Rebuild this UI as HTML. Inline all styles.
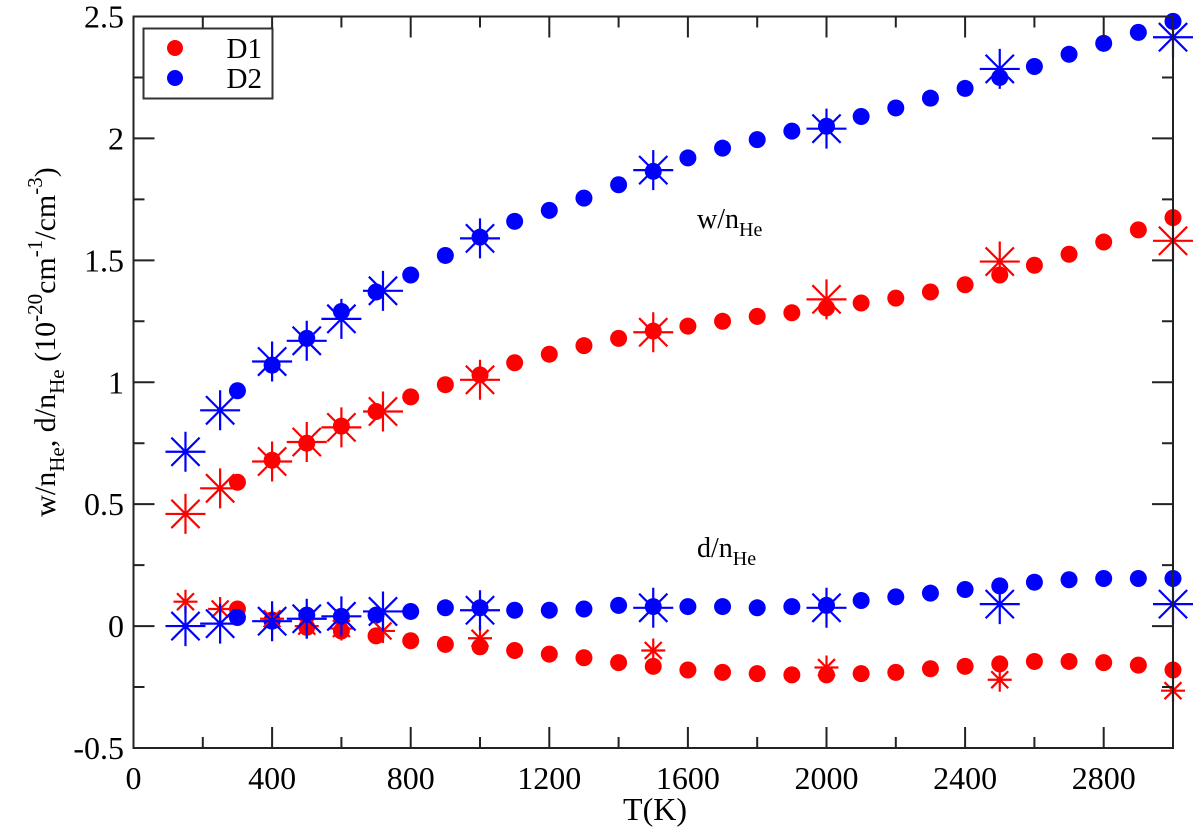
<!DOCTYPE html>
<html><head><meta charset="utf-8"><style>
html,body{margin:0;padding:0;background:#fff}
svg{display:block}
svg text{font-family:"Liberation Serif","Times New Roman","DejaVu Serif",serif}
</style></head><body>
<svg id="chart" width="1200" height="829" viewBox="0 0 1200 829" xmlns="http://www.w3.org/2000/svg" font-family="'Liberation Serif','Times New Roman','DejaVu Serif',serif">
<rect x="0" y="0" width="1200" height="829" fill="#fff"/>
<g id="marks"></g>
<g id="axes"></g>
<text x="655" y="820" font-size="32" text-anchor="middle">T(K)</text>
<text transform="translate(55,342) rotate(-90)" font-size="30" text-anchor="middle">w/n<tspan font-size="21" dy="9">He</tspan><tspan dy="-9">, d/n</tspan><tspan font-size="21" dy="9">He</tspan><tspan dy="-9"> (10</tspan><tspan font-size="21" dy="-13">-20</tspan><tspan dy="13">cm</tspan><tspan font-size="21" dy="-13">-1</tspan><tspan dy="13">/cm</tspan><tspan font-size="21" dy="-13">-3</tspan><tspan dy="13">)</tspan></text>
<text x="697" y="228" font-size="28">w/n<tspan font-size="20" dy="8">He</tspan></text>
<text x="697" y="557" font-size="28">d/n<tspan font-size="20" dy="8">He</tspan></text>
<g>
<rect x="143.5" y="28.5" width="129" height="70" fill="#fff" stroke="#333" stroke-width="2"/>
<circle cx="175" cy="48" r="8" fill="#ff0000"/>
<text x="262" y="58" font-size="29" text-anchor="end">D1</text>
<circle cx="175" cy="78" r="8" fill="#0000ff"/>
<text x="262" y="88" font-size="29" text-anchor="end">D2</text>
</g>
</svg>
<script>
const circleT = [300,400,500,600,700,800,900,1000,1100,1200,1300,1400,1500,1600,1700,1800,1900,2000,2100,2200,2300,2400,2500,2600,2700,2800,2900,3000];
const wD1 = [0.59,0.68,0.75,0.82,0.88,0.94,0.99,1.03,1.08,1.115,1.15,1.18,1.21,1.23,1.25,1.27,1.285,1.305,1.325,1.345,1.37,1.40,1.44,1.48,1.525,1.575,1.625,1.675];
const wD2 = [0.965,1.07,1.18,1.29,1.37,1.44,1.52,1.595,1.66,1.705,1.755,1.81,1.865,1.92,1.96,1.995,2.03,2.05,2.09,2.125,2.165,2.205,2.25,2.295,2.345,2.39,2.435,2.48];
const dD1 = [0.07,0.025,-0.005,-0.02,-0.04,-0.06,-0.075,-0.085,-0.10,-0.115,-0.13,-0.15,-0.165,-0.18,-0.19,-0.195,-0.2,-0.2,-0.195,-0.19,-0.175,-0.165,-0.155,-0.145,-0.145,-0.15,-0.16,-0.18];
const dD2 = [0.035,0.02,0.045,0.04,0.045,0.06,0.075,0.075,0.065,0.065,0.07,0.085,0.08,0.08,0.08,0.075,0.08,0.085,0.105,0.12,0.135,0.15,0.165,0.18,0.19,0.195,0.195,0.195];
const starT = [150,250,400,500,600,720,1000,1500,2000,2500,3000];
const wStarD1 = [0.46,0.565,0.675,0.755,0.815,0.88,1.01,1.205,1.34,1.495,1.58];
const wStarD2 = [0.715,0.885,1.085,1.17,1.26,1.375,1.59,1.87,2.04,2.285,2.415];
const dStarD1 = [0.10,0.07,0.03,0.0,-0.01,-0.02,-0.05,-0.10,-0.17,-0.22,-0.265];
const dStarD2 = [0.0,0.01,0.02,0.03,0.04,0.06,0.065,0.075,0.075,0.09,0.09];
const xTicks = [0,400,800,1200,1600,2000,2400,2800];
const yTicks = [-0.5,0,0.5,1,1.5,2,2.5];

const X0=133.5, X1=1173, Y0=748, Y1=16.5;
const xs = t => X0 + (t-0)/(3000-0)*(X1-X0);
const ys = v => Y0 - (v+0.5)/3*(Y0-Y1);
const NS='http://www.w3.org/2000/svg';
const marks=document.getElementById('marks'), axes=document.getElementById('axes');
function mk(tag, parent){const e=document.createElementNS(NS,tag);parent.appendChild(e);return e;}

function circles(vals,color,name){
  vals.forEach((v,i)=>{
    const c=mk('circle',marks);
    c.setAttribute('cx',xs(circleT[i]));c.setAttribute('cy',ys(v));c.setAttribute('r',8.5);c.setAttribute('fill',color);
    
    
  });
}
function stars(vals,color,r,name){
  vals.forEach((v,i)=>{
    const cx=xs(starT[i]), cy=ys(v);
    const g=mk('g',marks);
    
    
    const d=r*0.707;
    const p=mk('path',g);
    p.setAttribute('d',`M${cx-r},${cy}H${cx+r}M${cx},${cy-r}V${cy+r}M${cx-d},${cy-d}L${cx+d},${cy+d}M${cx-d},${cy+d}L${cx+d},${cy-d}`);
    p.setAttribute('stroke',color);p.setAttribute('stroke-width',2.2);p.setAttribute('fill','none');
  });
}
circles(wD1,'#ff0000','w-d1');
circles(wD2,'#0000ff','w-d2');
circles(dD1,'#ff0000','d-d1');
circles(dD2,'#0000ff','d-d2');
stars(wStarD1,'#ff0000',20,'w-d1-star');
stars(wStarD2,'#0000ff',20,'w-d2-star');
stars(dStarD1,'#ff0000',12,'d-d1-star');
stars(dStarD2,'#0000ff',20,'d-d2-star');

const fr=mk('rect',axes);
fr.setAttribute('x',X0);fr.setAttribute('y',Y1);fr.setAttribute('width',X1-X0);fr.setAttribute('height',Y0-Y1);
fr.setAttribute('fill','none');fr.setAttribute('stroke','#222');fr.setAttribute('stroke-width',2);


let tp='';
for(let t=0;t<=3000;t+=200){
  const x=xs(t), L=(t%400===0)?21:11;
  tp+=`M${x},${Y0}V${Y0-L}M${x},${Y1}V${Y1+L}`;
}
for(let v=-0.5;v<=2.5001;v+=0.25){
  const y=ys(v), L=(Math.abs(v*2-Math.round(v*2))<1e-6)?21:11;
  tp+=`M${X0},${y}H${X0+L}M${X1},${y}H${X1-L}`;
}
const tk=mk('path',axes);
tk.setAttribute('d',tp);tk.setAttribute('stroke','#222');tk.setAttribute('stroke-width',2);


xTicks.forEach(t=>{
  const e=mk('text',axes);
  e.setAttribute('x',xs(t));e.setAttribute('y',789);e.setAttribute('font-size',32);e.setAttribute('text-anchor','middle');
  e.textContent=String(t);
  
  
});
yTicks.forEach(v=>{
  const e=mk('text',axes);
  e.setAttribute('x',124);e.setAttribute('y',ys(v)+11);e.setAttribute('font-size',32);e.setAttribute('text-anchor','end');
  e.textContent=String(v);
  
  
});
</script>
</body></html>
